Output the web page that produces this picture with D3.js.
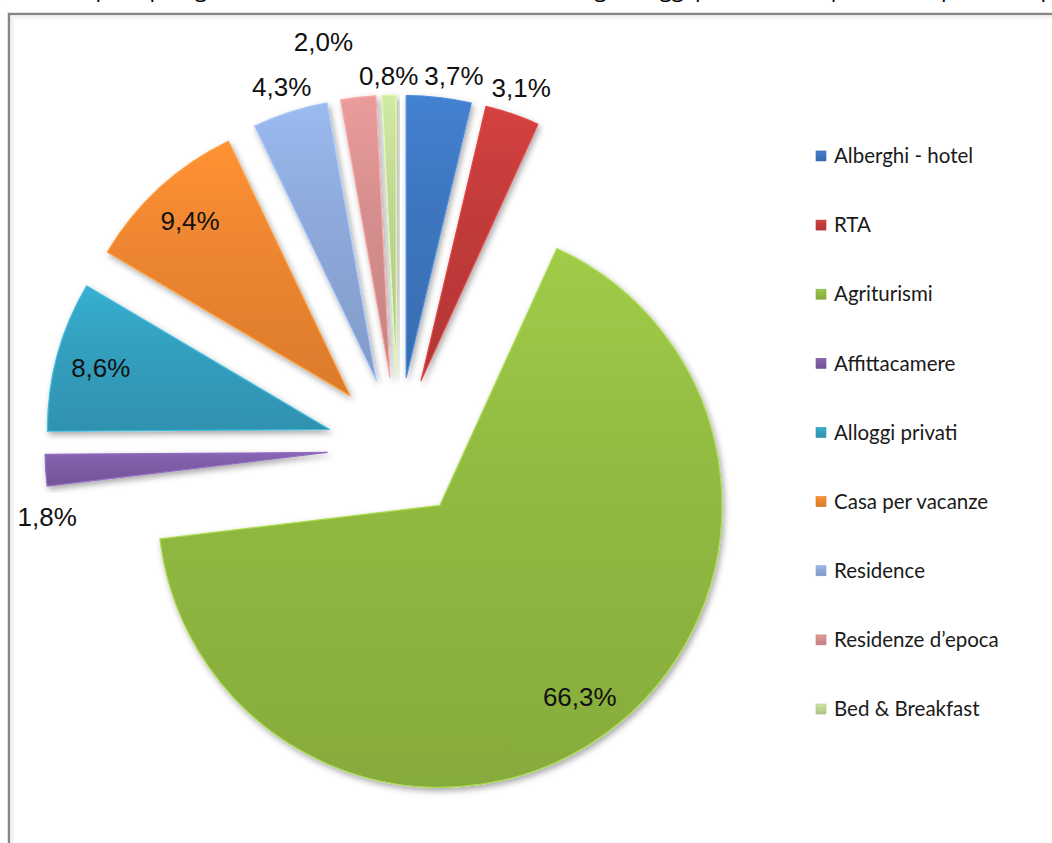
<!DOCTYPE html>
<html>
<head>
<meta charset="utf-8">
<script src="https://cdn.jsdelivr.net/npm/d3@7"></script>
<style>
  html, body { margin: 0; padding: 0; background: #fff; overflow: hidden; }
  svg { display: block; }
</style>
</head>
<body>
<script>
// ---- data ----
const categories = ["Alberghi - hotel", "RTA", "Agriturismi", "Affittacamere", "Alloggi privati",
                    "Casa per vacanze", "Residence", "Residenze d\u2019epoca", "Bed & Breakfast"];
const values = [3.7, 3.1, 66.3, 1.8, 8.6, 9.4, 4.3, 2.0, 0.8];
const colors = ["#3d76bf", "#c23b3a", "#92bb42", "#7d5ca5", "#33a0bf", "#ee8630", "#8eaadb", "#d68f8e", "#bfd694"];
const titleText = "presenze per tipologia ricettiva (%, 2011) nelle strutture degli alloggi privati, con il peso delle presenze per tipo di esercizio";

// ---- layout ----
const W = 1052, H = 843;
const cx = 398, cy = 448, R = 282, explode = 71;
const frame = {x: 9, y: 14};
const labelFont = "'Liberation Sans', Arial, sans-serif";
const labelSize = 26;

const fmt = d3.formatLocale({decimal: ",", thousands: ".", grouping: [3], currency: ["", "€"]}).format(".1f");

const svg = d3.select("body").append("svg").attr("width", W).attr("height", H);
const defs = svg.append("defs");

// drop shadow
const f = defs.append("filter").attr("id", "sh").attr("x", "-20%").attr("y", "-20%").attr("width", "140%").attr("height", "140%");
f.append("feDropShadow").attr("dx", 2).attr("dy", 3).attr("stdDeviation", 3).attr("flood-color", "#000").attr("flood-opacity", 0.35);

// gradients
colors.forEach((c, i) => {
  const g = defs.append("linearGradient").attr("id", "g" + i).attr("x1", 0).attr("y1", 0).attr("x2", 0).attr("y2", 1);
  g.append("stop").attr("offset", "0%").attr("stop-color", d3.color(c).brighter(0.25));
  g.append("stop").attr("offset", "40%").attr("stop-color", c);
  g.append("stop").attr("offset", "100%").attr("stop-color", d3.color(c).darker(0.25));
});

// title (cut off at the top, as in the reference)
svg.append("text").attr("x", -4).attr("y", -3)
  .attr("font-family", "'Open Sans', sans-serif").attr("font-size", 22).attr("fill", "#000")
  .text(titleText);

// frame
svg.append("rect").attr("x", frame.x).attr("y", frame.y).attr("width", W + 50).attr("height", H + 50)
  .attr("fill", "#fff").attr("stroke", "#868686").attr("stroke-width", 2.5);
svg.append("rect").attr("x", frame.x + 3).attr("y", frame.y + 3).attr("width", W + 50).attr("height", H + 50)
  .attr("fill", "none").attr("stroke", "#f2f2f2").attr("stroke-width", 3);

const data = categories.map((c, i) => ({cat: c, v: values[i], color: colors[i], i}));
const pie = d3.pie().sort(null).value(d => d.v);
const arcs = pie(data);
const arc = d3.arc().innerRadius(0).outerRadius(R);

arcs.forEach(a => {
  a.mid = (a.startAngle + a.endAngle) / 2;
  a.dir = [Math.sin(a.mid), -Math.cos(a.mid)];
  a.apex = [cx + explode * a.dir[0], cy + explode * a.dir[1]];
});

const sliceG = svg.append("g");
sliceG.selectAll("path").data(arcs).join("path")
  .attr("transform", a => `translate(${a.apex[0]},${a.apex[1]})`)
  .attr("d", arc)
  .attr("fill", a => `url(#g${a.data.i})`)
  .attr("stroke", a => d3.color(a.data.color).brighter(0.45))
  .attr("stroke-width", 1.2)
  .attr("stroke-linejoin", "round")
  .attr("filter", "url(#sh)");

// labels
const labG = svg.append("g").attr("font-family", labelFont).attr("font-size", labelSize).attr("fill", "#111");
const capH = labelSize * 0.72;
const outside = [];
arcs.forEach(a => {
  const t = labG.append("text").attr("text-anchor", "middle").text(fmt(a.data.v) + "%");
  const w = t.node().getComputedTextLength();
  a.lab = {t, w, h: capH};
  if (a.data.v > 5) {
    const rr = R * 0.84;
    a.lab.x = a.apex[0] + rr * a.dir[0];
    a.lab.y = a.apex[1] + rr * a.dir[1];
  } else {
    const outer = [a.apex[0] + R * a.dir[0], a.apex[1] + R * a.dir[1]];
    const off = Math.abs(a.dir[0]) * w / 2 + Math.abs(a.dir[1]) * capH / 2 + 9;
    a.lab.x = outer[0] + off * a.dir[0];
    a.lab.y = outer[1] + off * a.dir[1];
    if (a.lab.x - w / 2 < frame.x + 4) {
      // no room at the side: put it below the slice's lower corner
      const c1 = [a.apex[0] + R * Math.sin(a.startAngle), a.apex[1] - R * Math.cos(a.startAngle)];
      const c2 = [a.apex[0] + R * Math.sin(a.endAngle), a.apex[1] - R * Math.cos(a.endAngle)];
      const low = c1[1] > c2[1] ? c1 : c2;
      a.lab.x = low[0];
      a.lab.y = low[1] + capH + 12;
    }
    a.lab.dist = Math.min(a.mid, 2 * Math.PI - a.mid);
    a.lab.side = a.mid > Math.PI ? -1 : 1;
    outside.push(a);
  }
});

function overlap(p, q, gap) {
  return Math.abs(p.x - q.x) < (p.w + q.w) / 2 + gap && Math.abs(p.y - q.y) < (p.h + q.h) / 2 + gap;
}
outside.sort((a, b) => a.lab.dist - b.lab.dist);
const placed = [];
outside.forEach(a => {
  const L = a.lab;
  placed.forEach(p => {
    if (overlap(L, p, 4)) {
      if (p.shifted) {
        // the earlier label was already pushed sideways: lift it above this one
        p.y = L.y - (p.h + L.h) / 2 - 26;
      } else {
        L.x = L.side < 0 ? p.x - (p.w + L.w) / 2 - 6 : p.x + (p.w + L.w) / 2 + 6;
        L.shifted = true;
      }
    }
  });
  placed.push(L);
});

arcs.forEach(a => {
  a.lab.t.attr("x", a.lab.x).attr("y", a.lab.y + capH / 2);
});

// legend
const legY = d3.scaleBand().domain(categories).range([121.4, 743.6]);
const leg = svg.append("g").attr("font-family", "Lato, 'Open Sans', sans-serif").attr("font-size", 20.5).attr("fill", "#1a1a1a");
const li = leg.selectAll("g").data(data).join("g")
  .attr("transform", d => `translate(816,${legY(d.cat) + legY.bandwidth() / 2})`);
li.append("rect").attr("x", 0).attr("y", -5).attr("width", 10).attr("height", 10)
  .attr("fill", d => `url(#g${d.i})`).attr("stroke", d => d3.color(d.color).darker(0.3)).attr("stroke-width", 0.6);
li.append("text").attr("x", 18).attr("y", 0).attr("dy", "0.35em").text(d => d.cat);
</script>
</body>
</html>
